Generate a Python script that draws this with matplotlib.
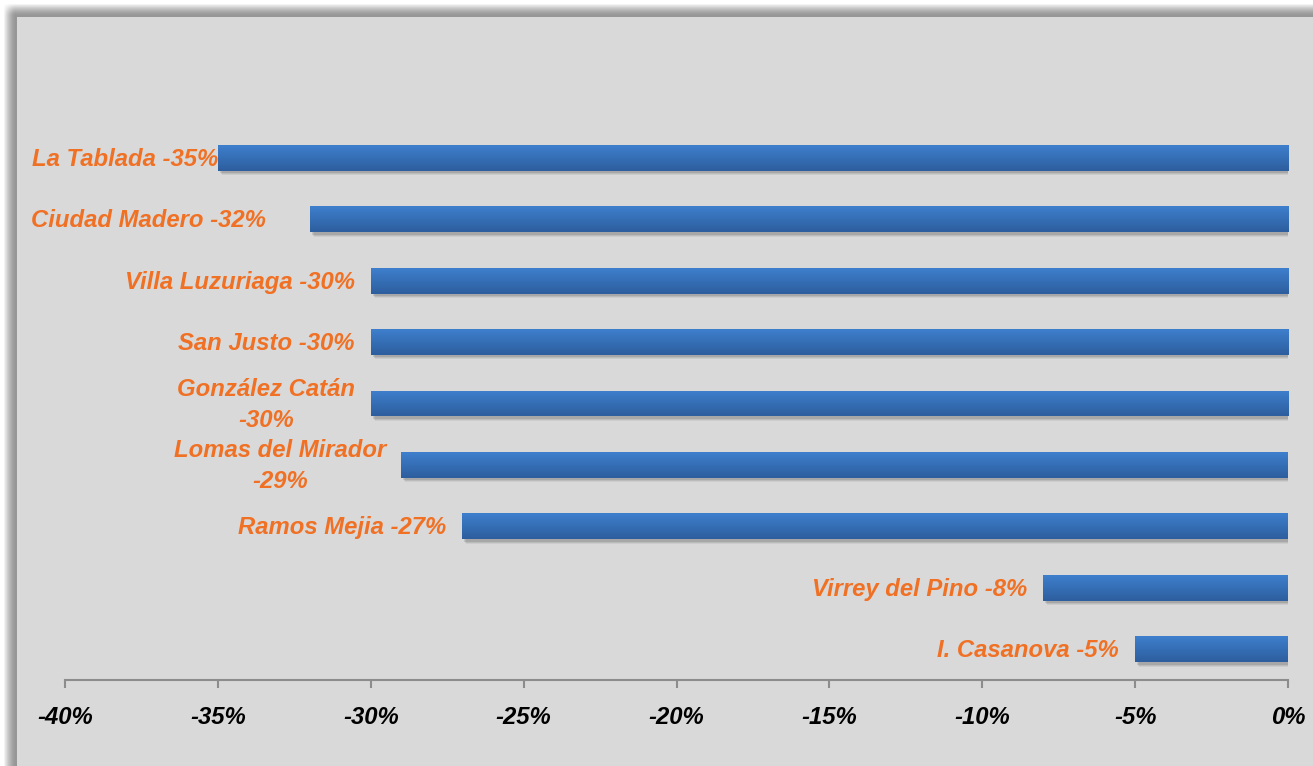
import numpy as np
import matplotlib.pyplot as plt
from matplotlib.colors import LinearSegmentedColormap
from matplotlib.patches import Rectangle
import matplotlib.transforms as mtransforms

categories = ["La Tablada", "Ciudad Madero", "Villa Luzuriaga", "San Justo",
              "González Catán", "Lomas del Mirador", "Ramos Mejia",
              "Virrey del Pino", "I. Casanova"]
values = [-35, -32, -30, -30, -30, -29, -27, -8, -5]
labels = ["La Tablada -35%", "Ciudad Madero -32%", "Villa Luzuriaga -30%",
          "San Justo -30%", "González Catán\n-30%", "Lomas del Mirador\n-29%",
          "Ramos Mejia -27%", "Virrey del Pino -8%", "I. Casanova -5%"]
# gap (px) between label and bar start, labels were hand-placed in the original
label_gap = [0, 44, 16, 16, 16, 15, 16, 16, 16]
xticks = np.arange(-40, 1, 5)

W, H = 1313, 766
fig = plt.figure(figsize=(W / 100, H / 100), dpi=100)
fig.patch.set_facecolor("white")

# background: gray chart area with blurred dark border on left/top
bg = fig.add_axes([0, 0, 1, 1], zorder=-10)
yy, xx = np.indices((H, W))
edge, blur = 17, 12
dx = np.clip((edge - 2 - xx) / blur, 0, 1) ** 1.5
dy = np.clip((edge - 2 - yy) / blur, 0, 1) ** 1.5
inside = (xx >= edge) & (yy >= edge)
shade = (1 - dx) * (1 - dy)
img = 1.0 - shade * (1.0 - 0.59)
img[inside] = 0xd9 / 255
bg.imshow(img, cmap="gray", vmin=0, vmax=1, aspect="auto", interpolation="bilinear")
bg.axis("off")

left, right = 65 / W, 1288 / W
bottom, top = (H - 680) / H, (H - 127) / H
ax = fig.add_axes([left, bottom, right - left, top - bottom])
ax.set_facecolor("none")

bar_h = 0.42
cmap = LinearSegmentedColormap.from_list("barblue", ["#3e7fcd", "#2d5e9e"])
grad = np.linspace(0, 1, 64).reshape(-1, 1)

y = np.arange(len(values))
for i, v in zip(y, values):
    # soft drop shadow
    for k, a in enumerate([0.10, 0.08, 0.06]):
        off = mtransforms.offset_copy(ax.transData, fig=fig, x=2 + k, y=-2.5 - k, units="dots")
        ax.add_patch(Rectangle((v, i - bar_h / 2), -v, bar_h, facecolor="black",
                               alpha=a, edgecolor="none", transform=off, zorder=1))
    rect = Rectangle((v, i - bar_h / 2), -v, bar_h, facecolor="#3670b8",
                     edgecolor="none", zorder=2)
    ax.add_patch(rect)
    im = ax.imshow(grad, cmap=cmap, aspect="auto", zorder=3,
                   extent=[v, 0, i + bar_h / 2, i - bar_h / 2])
    im.set_clip_path(rect)

font = dict(family="Liberation Sans", weight="bold", style="italic")
for i, v, lab, gap in zip(y, values, labels, label_gap):
    ax.annotate(lab, xy=(v, i), xytext=(-gap * 0.72, -1), textcoords="offset points",
                ha="right", va="center", multialignment="center", linespacing=1.45,
                color="#f07024", fontsize=17.2, annotation_clip=False, **font)

ax.set_xlim(-40, 0)
ax.set_ylim(len(values) - 0.5, -0.5)
ax.set_xticks(xticks)
ax.set_xticklabels([f"{t}%" for t in xticks], fontsize=17.2, color="black", **font)
ax.set_yticks([])
for s in ["left", "top", "right"]:
    ax.spines[s].set_visible(False)
ax.spines["bottom"].set_color("#8c8c8c")
ax.spines["bottom"].set_linewidth(1.5)
ax.tick_params(axis="x", direction="out", length=6, width=1.5, color="#8c8c8c", pad=13)

fig.savefig("out.png", dpi=100)
